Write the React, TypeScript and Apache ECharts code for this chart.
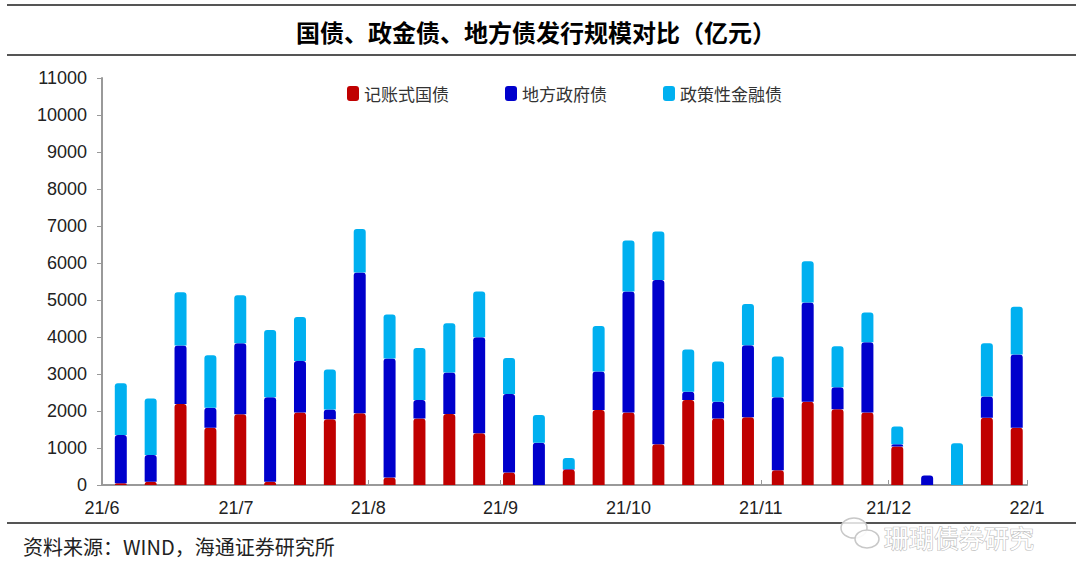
import React, { useEffect, useRef } from 'react';
import * as echarts from 'echarts';

// weekly issuance dates (Fridays)
const weeks = [
  '2021-06-04', '2021-06-11', '2021-06-18', '2021-06-25',
  '2021-07-02', '2021-07-09', '2021-07-16', '2021-07-23', '2021-07-30',
  '2021-08-06', '2021-08-13', '2021-08-20', '2021-08-27',
  '2021-09-03', '2021-09-10', '2021-09-17', '2021-09-24',
  '2021-10-01', '2021-10-08', '2021-10-15', '2021-10-22', '2021-10-29',
  '2021-11-05', '2021-11-12', '2021-11-19', '2021-11-26',
  '2021-12-03', '2021-12-10', '2021-12-17', '2021-12-24', '2021-12-31'
];

const seriesNames = ['记账式国债', '地方政府债', '政策性金融债'];

// 亿元
const treasury = [
  50, 90, 2190, 1550, 1910, 90, 1960, 1780, 1940, 200, 1800, 1920, 1400, 340, 0,
  420, 2030, 1960, 1100, 2300, 1800, 1830, 400, 2250, 2050, 1960, 1040, 0, 0, 1820, 1550
];
const localGov = [
  1300, 720, 1580, 540, 1920, 2280, 1390, 260, 3800, 3220, 500, 1120, 2590, 2120, 1140,
  10, 1040, 3270, 4440, 220, 450, 1950, 1970, 2680, 590, 1900, 60, 260, 0, 570, 1980
];
const policyBank = [
  1400, 1530, 1440, 1420, 1300, 1820, 1190, 1080, 1180, 1190, 1400, 1330, 1240, 970, 750,
  300, 1230, 1380, 1310, 1140, 1090, 1110, 1100, 1120, 1110, 800, 480, 0, 1130, 1440, 1290
];

const colors = ['#C00000', '#0000CC', '#00B0F0'];

const cjk = '"Noto Sans CJK SC", sans-serif';
const latin = '"Liberation Sans", Arial, sans-serif';

const App: React.FC = () => {
  const chartRef = useRef<HTMLDivElement>(null);

  useEffect(() => {
    document.body.style.margin = '0';
    if (!chartRef.current) return;
    const chart = echarts.init(chartRef.current, null, { renderer: 'svg' });

    const values = [treasury, localGov, policyBank];

    const option: echarts.EChartsOption = {
      animation: false,
      backgroundColor: '#fff',
      grid: { left: 102, right: 53, top: 78, bottom: 95 },
      legend: {
        left: 342,
        top: 80,
        itemWidth: 12,
        itemHeight: 15,
        itemGap: 56,
        icon: 'roundRect',
        textStyle: { fontSize: 17, fontFamily: cjk, color: '#333' },
        data: seriesNames
      },
      xAxis: {
        type: 'time',
        min: '2021-06-01',
        max: '2022-01-01',
        splitNumber: 7,
        maxInterval: 31 * 24 * 3600 * 1000,
        axisLine: { lineStyle: { color: '#999', width: 2 } },
        axisTick: { show: true, inside: true, length: 5, lineStyle: { color: '#999' } },
        splitLine: { show: false },
        axisLabel: {
          fontSize: 18,
          fontFamily: latin,
          color: '#222',
          margin: 14,
          showMinLabel: true,
          showMaxLabel: true,
          formatter: (val: number) => {
            // nudge forward so a tick a few hours before a month start still reads as that month
            const d = new Date(val + 3 * 24 * 3600 * 1000);
            return `${String(d.getFullYear()).slice(2)}/${d.getMonth() + 1}`;
          }
        }
      },
      yAxis: {
        type: 'value',
        min: 0,
        max: 11000,
        interval: 1000,
        axisLine: { show: true, lineStyle: { color: '#999', width: 2 } },
        axisTick: { show: true, length: 5, lineStyle: { color: '#999' } },
        splitLine: { show: false },
        axisLabel: {
          fontSize: 18,
          fontFamily: latin,
          color: '#222',
          margin: 15,
          formatter: (v: number) => String(v)
        }
      },
      series: seriesNames.map((name, i) => ({
        name,
        type: 'bar',
        stack: 'total',
        barWidth: 12,
        itemStyle: { color: colors[i], borderRadius: [3, 3, 0, 0] },
        data: weeks.map((w, j) => [w, values[i][j]])
      })),
      graphic: [
        {
          type: 'line',
          shape: { x1: 7, y1: 5, x2: 1076, y2: 5 },
          style: { stroke: '#555', lineWidth: 2 }
        },
        {
          type: 'text',
          x: 536,
          y: 31,
          style: {
            text: '国债、政金债、地方债发行规模对比（亿元）',
            fontSize: 24,
            fontWeight: 'bold',
            fontFamily: cjk,
            fill: '#000',
            align: 'center',
            verticalAlign: 'middle'
          }
        },
        {
          type: 'line',
          shape: { x1: 7, y1: 55, x2: 1076, y2: 55 },
          style: { stroke: '#555', lineWidth: 2 }
        },
        {
          type: 'line',
          shape: { x1: 7, y1: 523, x2: 1076, y2: 523 },
          style: { stroke: '#555', lineWidth: 2 }
        },
        {
          type: 'text',
          x: 23,
          y: 546,
          style: {
            text: '资料来源：WIND，海通证券研究所',
            fontSize: 20,
            fontFamily: cjk,
            fill: '#222',
            verticalAlign: 'middle'
          }
        },
        {
          type: 'ellipse',
          shape: { cx: 854, cy: 528, rx: 13, ry: 10 },
          style: { fill: 'rgba(255,255,255,0.8)', stroke: '#c8c8c8', lineWidth: 1.5 }
        },
        {
          type: 'ellipse',
          shape: { cx: 867, cy: 539, rx: 12, ry: 9 },
          style: { fill: 'rgba(255,255,255,0.9)', stroke: '#c8c8c8', lineWidth: 1.5 }
        },
        {
          type: 'text',
          x: 884,
          y: 537,
          style: {
            text: '珊瑚债券研究',
            fontSize: 25,
            fontFamily: cjk,
            fill: '#fff',
            stroke: '#bdbdbd',
            lineWidth: 1.2,
            verticalAlign: 'middle'
          }
        }
      ]
    };

    chart.setOption(option);
    return () => {
      chart.dispose();
    };
  }, []);

  return <div ref={chartRef} style={{ width: 1080, height: 580 }} />;
};

export default App;
